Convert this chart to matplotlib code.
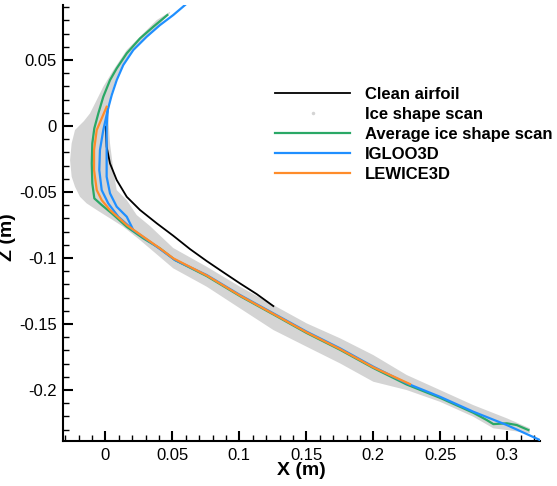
import numpy as np
import matplotlib
matplotlib.use('Agg')
import matplotlib.pyplot as plt
from matplotlib.ticker import MultipleLocator

plt.rcParams['font.family'] = ['Liberation Sans', 'DejaVu Sans']
plt.rcParams['axes.unicode_minus'] = False

### clean airfoil (leading edge, lower side)
clean_x = [0.0003, 0.0010, 0.0035, 0.0085, 0.0160, 0.0259, 0.0384, 0.0507, 0.0632, 0.0757,
           0.0881, 0.1005, 0.1130, 0.1254]
clean_z = [-0.0005, -0.0157, -0.0283, -0.0409, -0.0536, -0.0636, -0.0737, -0.0831, -0.0932, -0.1023,
           -0.1108, -0.1192, -0.1273, -0.1364]

### ice shape scan envelope: outer edge (top -> tail), inner edge (tail -> top)
scan_outer_x = [0.0483, 0.0384, 0.0284, 0.0160, 0.0060, -0.0015, -0.0064, -0.0114, -0.0159, -0.0226,
                -0.0251, -0.0263, -0.0251, -0.0226, -0.0189, -0.0139, -0.0064, 0.0035, 0.0134, 0.0259,
                0.0507, 0.0757, 0.1005, 0.1254, 0.1503, 0.1752, 0.2000, 0.2249, 0.2498, 0.2746,
                0.2896, 0.2996, 0.3169]
scan_outer_z = [0.0866, 0.0803, 0.0702, 0.0576, 0.0424, 0.0298, 0.0197, 0.0096, 0.0038, -0.0030,
                -0.0131, -0.0258, -0.0384, -0.0460, -0.0536, -0.0586, -0.0636, -0.0699, -0.0763, -0.0864,
                -0.1078, -0.1217, -0.1381, -0.1545, -0.1672, -0.1798, -0.1937, -0.2000, -0.2089, -0.2202,
                -0.2290, -0.2303, -0.2328]
scan_inner_x = [0.3169, 0.2996, 0.2746, 0.2498, 0.2249, 0.2000, 0.1752, 0.1503, 0.1254, 0.1005,
                0.0757, 0.0507, 0.0334, 0.0234, 0.0160, 0.0085, 0.0060, 0.0035, 0.0022, 0.0040,
                0.0078, 0.0127, 0.0201, 0.0301, 0.0401, 0.0483]
scan_inner_z = [-0.2290, -0.2214, -0.2114, -0.2000, -0.1886, -0.1735, -0.1608, -0.1495, -0.1356, -0.1217,
                -0.1066, -0.0924, -0.0758, -0.0674, -0.0561, -0.0485, -0.0333, -0.0131, 0.0070, 0.0235,
                0.0348, 0.0462, 0.0576, 0.0677, 0.0765, 0.0856]

### average ice shape scan
avg_x = [0.0463, 0.0358, 0.0259, 0.0160, 0.0085, 0.0035, -0.0015, -0.0052, -0.0082, -0.0097,
         -0.0101, -0.0097, -0.0082, -0.0027, 0.0048, 0.0160, 0.0284, 0.0408, 0.0520, 0.0757,
         0.1005, 0.1254, 0.1503, 0.1752, 0.2000, 0.2249, 0.2498, 0.2746, 0.2846, 0.2896,
         0.2996, 0.3070, 0.3157]
avg_z = [0.0841, 0.0752, 0.0664, 0.0551, 0.0437, 0.0348, 0.0222, 0.0096, -0.0017, -0.0131,
         -0.0283, -0.0434, -0.0548, -0.0598, -0.0661, -0.0763, -0.0851, -0.0927, -0.1015, -0.1137,
         -0.1288, -0.1427, -0.1568, -0.1695, -0.1833, -0.1958, -0.2059, -0.2172, -0.2227, -0.2258,
         -0.2252, -0.2265, -0.2303]

### IGLOO3D (two cuts near the leading edge)
igloo_x = [0.0595, 0.0507, 0.0408, 0.0309, 0.0209, 0.0134, 0.0085, 0.0048, 0.0018, -0.0015,
           -0.0040, -0.0045, -0.0027, 0.0022, 0.0097, 0.0209, 0.0334, 0.0520, 0.0757, 0.1005,
           0.1254, 0.1503, 0.1752, 0.2000, 0.2249, 0.2498, 0.2746, 0.2996, 0.3244]
igloo_z = [0.0917, 0.0841, 0.0765, 0.0677, 0.0576, 0.0462, 0.0348, 0.0235, 0.0121, -0.0030,
           -0.0182, -0.0333, -0.0485, -0.0586, -0.0687, -0.0788, -0.0877, -0.1015, -0.1129, -0.1280,
           -0.1419, -0.1558, -0.1684, -0.1823, -0.1949, -0.2051, -0.2164, -0.2265, -0.2379]
igloo2_x = [0.0018, 0.0010, 0.0010, 0.0010, 0.0035, 0.0085, 0.0160, 0.0209]
igloo2_z = [0.0121, -0.0005, -0.0182, -0.0384, -0.0510, -0.0611, -0.0687, -0.0788]

### LEWICE3D
lewice_x = [0.0010, -0.0027, -0.0064, -0.0084, -0.0084, -0.0064, -0.0027, 0.0035, 0.0160, 0.0284,
            0.0408, 0.0507, 0.0757, 0.1005, 0.1254, 0.1503, 0.1752, 0.2000, 0.2274]
lewice_z = [0.0146, 0.0058, -0.0030, -0.0182, -0.0333, -0.0485, -0.0561, -0.0636, -0.0750, -0.0839,
            -0.0927, -0.1002, -0.1132, -0.1284, -0.1423, -0.1563, -0.1690, -0.1828, -0.1955]

### figure
fig = plt.figure(figsize=(5.57, 4.86), dpi=100)
ax = fig.add_axes([0.114, 0.0926, 0.8555, 0.8971])

ax.fill(scan_outer_x + scan_inner_x, scan_outer_z + scan_inner_z, color='#d4d4d4', lw=0, zorder=1)
ax.plot(clean_x, clean_z, color='black', lw=1.3, zorder=2, label='Clean airfoil')
ax.plot([], [], ls='none', marker='.', ms=3, color='#d4d4d4', label='Ice shape scan')
ax.plot(avg_x, avg_z, color='#2aa866', lw=1.6, zorder=3, label='Average ice shape scan')
ax.plot(igloo_x, igloo_z, color='#1f8fff', lw=1.6, zorder=4, label='IGLOO3D')
ax.plot(igloo2_x, igloo2_z, color='#1f8fff', lw=1.6, zorder=4)
ax.plot(lewice_x, lewice_z, color='#ff8c2a', lw=1.6, zorder=5, label='LEWICE3D')

ax.set_xlim(-0.0312, 0.3244)
ax.set_ylim(-0.2386, 0.0917)

for s in ['top', 'right']:
    ax.spines[s].set_visible(False)
for s in ['left', 'bottom']:
    ax.spines[s].set_linewidth(1.5)

ax.xaxis.set_major_locator(MultipleLocator(0.05))
ax.xaxis.set_minor_locator(MultipleLocator(0.01))
ax.yaxis.set_major_locator(MultipleLocator(0.05))
ax.yaxis.set_minor_locator(MultipleLocator(0.01))
ax.xaxis.set_major_formatter(plt.FuncFormatter(lambda v, p: '%g' % round(v, 3)))
ax.yaxis.set_major_formatter(plt.FuncFormatter(lambda v, p: '%g' % round(v, 3)))
ax.tick_params(which='major', direction='in', length=7.5, width=1.5, labelsize=12, pad=5)
ax.tick_params(which='minor', direction='in', length=4.5, width=1.0)

ax.set_xlabel('X (m)', fontsize=14, fontweight='bold')
ax.set_ylabel('Z (m)', fontsize=14, fontweight='bold')
ax.xaxis.set_label_coords(0.50, -0.048)
ax.yaxis.set_label_coords(-0.10, 0.468)

ax.legend(loc='upper left', bbox_to_anchor=(0.444, 0.813), frameon=False,
          prop={'weight': 'bold', 'size': 12}, handlelength=4.5, handletextpad=0.9,
          labelspacing=0.3, borderpad=0, borderaxespad=0)

plt.savefig('out.png', dpi=100)
